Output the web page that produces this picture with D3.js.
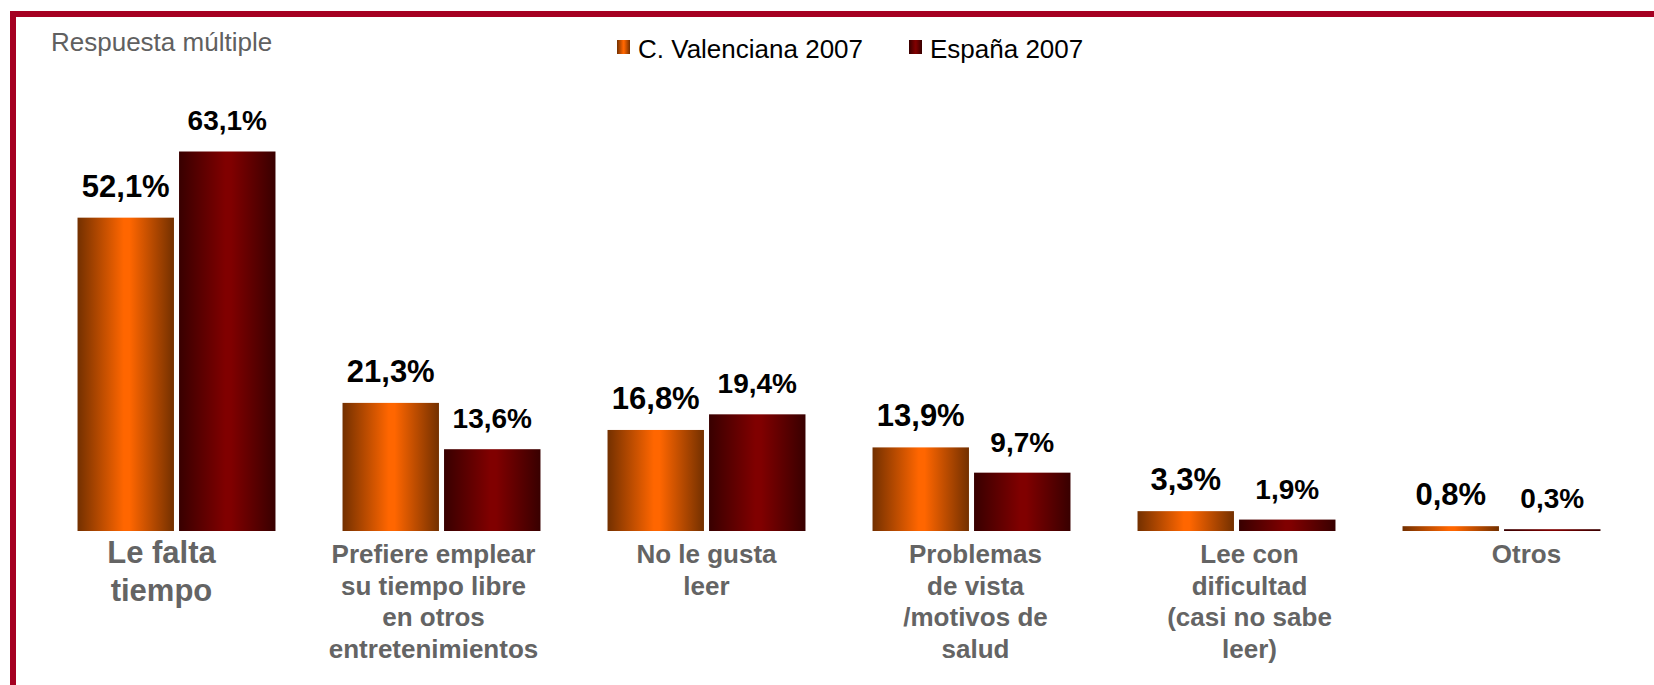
<!DOCTYPE html>
<html>
<head>
<meta charset="utf-8">
<script src="https://cdn.jsdelivr.net/npm/d3@7"></script>
<style>
    body { margin: 0; background: #fff; }
    svg { display: block; font-family: "Liberation Sans", Arial, sans-serif; }
</style>
</head>
<body>
<svg id="chart"></svg>
<script>
const categories = ["Le falta tiempo", "Prefiere emplear", "No le gusta leer", "Problemas de vista", "Lee con dificultad", "Otros"];
const categoryLines = [
    ["Le falta", "tiempo"],
    ["Prefiere emplear", "su tiempo libre", "en otros", "entretenimientos"],
    ["No le gusta", "leer"],
    ["Problemas", "de vista", "/motivos de", "salud"],
    ["Lee con", "dificultad", "(casi no sabe", "leer)"],
    ["Otros"]
];
const seriesNames = ["C. Valenciana 2007", "España 2007"];
const valenciaValues = [52.1, 21.3, 16.8, 13.9, 3.3, 0.8];
const espanaValues = [63.1, 13.6, 19.4, 9.7, 1.9, 0.3];

const largeur = 1654,
    hauteur = 685;

// the category labels in the original sit a little off their bar pairs
const labelShift = [-15, -8, 0, 4, 13, 25];

const svgSpace = d3.select("#chart")
    .attr("width", largeur)
    .attr("height", hauteur);

const defs = svgSpace.append("defs");

function addGradient(id, edge, mid) {
    const g = defs.append("linearGradient")
        .attr("id", id)
        .attr("x1", "0%").attr("x2", "100%")
        .attr("y1", "0%").attr("y2", "0%");
    g.append("stop").attr("offset", "0%").attr("stop-color", edge);
    g.append("stop").attr("offset", "48%").attr("stop-color", mid);
    g.append("stop").attr("offset", "54%").attr("stop-color", mid);
    g.append("stop").attr("offset", "100%").attr("stop-color", edge);
}
addGradient("gradValencia", "#733000", "#ff6600");
addGradient("gradEspana", "#380000", "#800000");

const fills = ["url(#gradValencia)", "url(#gradEspana)"];
const valueSizes = ["31px", "28px"];

// frame: top and left red lines
svgSpace.append("rect")
    .attr("x", 10).attr("y", 11)
    .attr("width", largeur - 10).attr("height", 6)
    .attr("fill", "#a50021");
svgSpace.append("rect")
    .attr("x", 10).attr("y", 11)
    .attr("width", 6).attr("height", hauteur - 11)
    .attr("fill", "#a50021");

svgSpace.append("text")
    .text("Respuesta múltiple")
    .attr("x", 51)
    .attr("y", 51)
    .attr("fill", "#606060")
    .style("font-size", "26px");

// legend
const legendX = [617, 909];
const legend = svgSpace.append("g")
    .selectAll("g")
    .data(seriesNames)
    .enter()
    .append("g")
    .attr("transform", (d, i) => "translate(" + legendX[i] + ",40)");
legend.append("rect")
    .attr("width", 13)
    .attr("height", 14)
    .attr("fill", (d, i) => fills[i]);
legend.append("text")
    .text((d) => d)
    .attr("x", 21)
    .attr("y", 18)
    .attr("fill", "#000")
    .style("font-size", "26px");

// scales
const x0 = d3.scaleBand()
    .domain(categories)
    .range([44, 1634])
    .paddingInner(0.253)
    .paddingOuter(0.1265);

const x1 = d3.scaleBand()
    .domain(seriesNames)
    .range([0, x0.bandwidth()])
    .paddingInner(0.05);

const y = d3.scaleLinear()
    .domain([0, 70])
    .range([531, 110]);

const fmt = (v) => d3.format(".1f")(v).replace(".", ",") + "%";

const rows = categories.map((c, i) => ({
    cat: c,
    lines: categoryLines[i],
    shift: labelShift[i],
    vals: [valenciaValues[i], espanaValues[i]]
}));

const groups = svgSpace.append("g")
    .selectAll("g")
    .data(rows)
    .enter()
    .append("g")
    .attr("transform", (d) => "translate(" + x0(d.cat) + ",0)");

groups.selectAll("rect")
    .data((d) => d.vals.map((v, i) => ({ s: seriesNames[i], v: v, i: i })))
    .enter()
    .append("rect")
    .attr("x", (d) => x1(d.s))
    .attr("y", (d) => y(d.v))
    .attr("width", x1.bandwidth())
    .attr("height", (d) => y(0) - y(d.v))
    .attr("fill", (d) => fills[d.i]);

groups.selectAll(".valueLabel")
    .data((d) => d.vals.map((v, i) => ({ s: seriesNames[i], v: v, i: i })))
    .enter()
    .append("text")
    .attr("class", "valueLabel")
    .text((d) => fmt(d.v))
    .attr("x", (d) => x1(d.s) + x1.bandwidth() / 2)
    .attr("y", (d) => y(d.v) - 21)
    .attr("fill", "#000")
    .style("font-weight", "bold")
    .style("font-size", (d) => valueSizes[d.i])
    .style("text-anchor", "middle");

// category labels under the bars
groups.each(function (d, gi) {
    const big = gi === 0;
    const t = d3.select(this).append("text")
        .attr("fill", "#646464")
        .style("font-weight", "bold")
        .style("font-size", big ? "31px" : "26px")
        .style("text-anchor", "middle");
    t.selectAll("tspan")
        .data(d.lines)
        .enter()
        .append("tspan")
        .text((l) => l)
        .attr("x", x0.bandwidth() / 2 + d.shift)
        .attr("y", (l, li) => 563 + li * (big ? 38 : 31.5));
});
</script>
</body>
</html>
